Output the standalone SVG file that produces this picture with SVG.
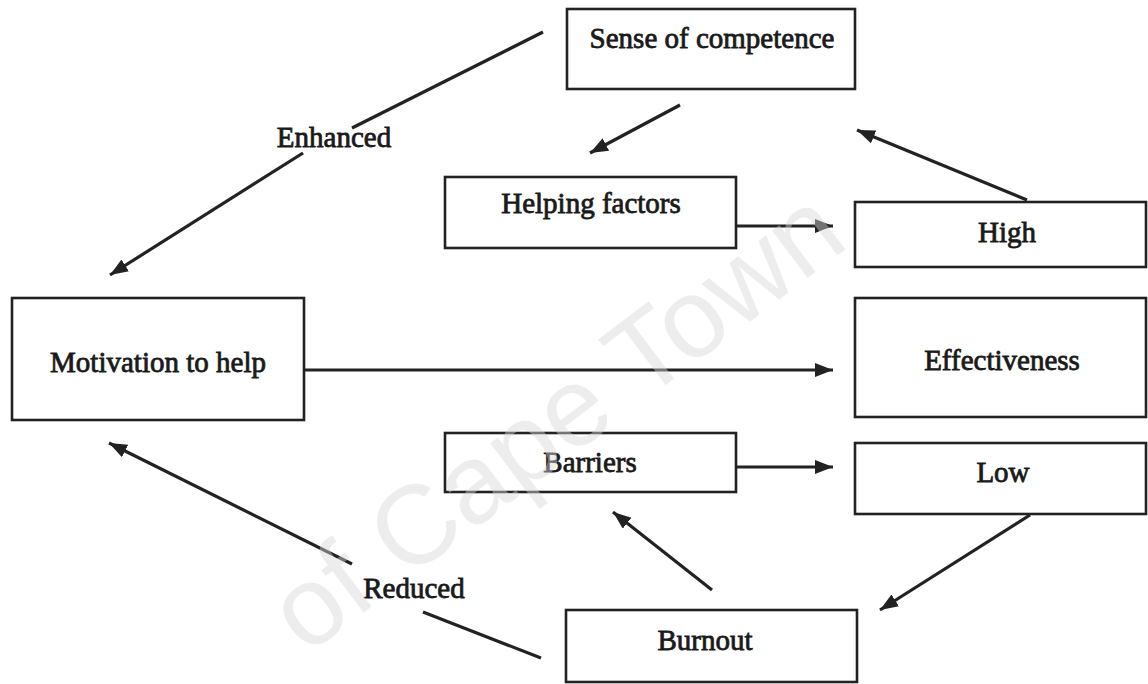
<svg xmlns="http://www.w3.org/2000/svg" width="1148" height="684" viewBox="0 0 1148 684">
  <defs>
    <marker id="arrow" markerUnits="userSpaceOnUse" markerWidth="20" markerHeight="16" refX="18" refY="7" orient="auto">
      <path d="M0,0 L18,7 L0,14 Z" fill="#222222"/>
    </marker>
    <style>
      .box { fill: #ffffff; stroke: #222222; stroke-width: 2.6; }
      .lbl { font-family: "Liberation Serif", "Times New Roman", serif; font-size: 29px; fill: #1a1a1a; stroke: #1a1a1a; stroke-width: 0.8; text-anchor: middle; }
      .conn { stroke: #222222; stroke-width: 3.2; fill: none; }
      .wm { font-family: "Liberation Sans", Arial, sans-serif; font-size: 112px; fill: #d8d8d8; fill-opacity: 0.45; }
    </style>
  </defs>
  <rect x="0" y="0" width="1148" height="684" fill="#ffffff"/>
  <g id="connectors">
    <line class="conn" x1="543" y1="32" x2="352" y2="128"/>
    <line class="conn" x1="303" y1="153" x2="110" y2="275" marker-end="url(#arrow)"/>
    <line class="conn" x1="680" y1="105" x2="590" y2="153" marker-end="url(#arrow)"/>
    <line class="conn" x1="1027" y1="200" x2="857" y2="130" marker-end="url(#arrow)"/>
    <line class="conn" x1="736" y1="226" x2="833" y2="226" marker-end="url(#arrow)"/>
    <line class="conn" x1="304" y1="370" x2="833" y2="370" marker-end="url(#arrow)"/>
    <line class="conn" x1="736" y1="467" x2="833" y2="467" marker-end="url(#arrow)"/>
    <line class="conn" x1="1030" y1="515" x2="880" y2="610" marker-end="url(#arrow)"/>
    <line class="conn" x1="712" y1="590" x2="613" y2="512" marker-end="url(#arrow)"/>
    <line class="conn" x1="541" y1="658" x2="423" y2="612"/>
    <line class="conn" x1="352" y1="564" x2="109" y2="443" marker-end="url(#arrow)"/>
    <text class="lbl" x="334" y="147">Enhanced</text>
    <text class="lbl" x="414" y="598">Reduced</text>
  </g>
  <g id="sense">
    <rect class="box" x="567" y="9" width="288" height="80"/>
    <text class="lbl" x="712" y="48">Sense of competence</text>
  </g>
  <g id="helping">
    <rect class="box" x="445" y="177" width="291" height="71"/>
    <text class="lbl" x="591" y="213">Helping factors</text>
  </g>
  <g id="high">
    <rect class="box" x="855" y="202" width="291" height="65"/>
    <text class="lbl" x="1007" y="242">High</text>
  </g>
  <g id="motivation">
    <rect class="box" x="12" y="298" width="292" height="122"/>
    <text class="lbl" x="158" y="372">Motivation to help</text>
  </g>
  <g id="effectiveness">
    <rect class="box" x="855" y="298" width="291" height="119"/>
    <text class="lbl" x="1002" y="370">Effectiveness</text>
  </g>
  <g id="barriers">
    <rect class="box" x="445" y="433" width="291" height="59"/>
    <text class="lbl" x="590" y="472">Barriers</text>
  </g>
  <g id="low">
    <rect class="box" x="855" y="443" width="291" height="71"/>
    <text class="lbl" x="1003" y="482">Low</text>
  </g>
  <g id="burnout">
    <rect class="box" x="566" y="610" width="291" height="72"/>
    <text class="lbl" x="705" y="650">Burnout</text>
  </g>
  <g id="watermark">
    <text class="wm" x="0" y="0" transform="translate(306,656) rotate(-37)">of Cape Town</text>
  </g>
</svg>
